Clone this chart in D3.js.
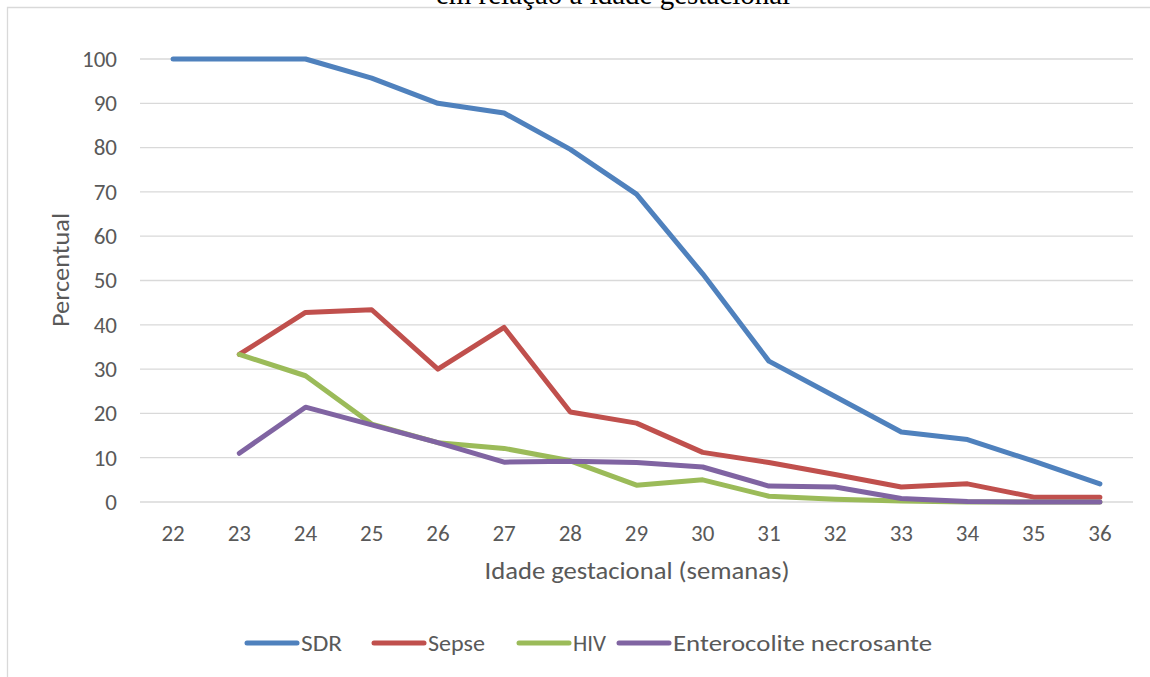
<!DOCTYPE html>
<html><head><meta charset="utf-8">
<script src="https://cdn.jsdelivr.net/npm/d3@7"></script>
<style>body{margin:0;background:#fff;overflow:hidden}svg{display:block}</style>
</head><body>
<svg id="c" width="1150" height="677"></svg>
<script>
const weeks = ["22","23","24","25","26","27","28","29","30","31","32","33","34","35","36"];
const sdr   = [100,100,100,95.7,90,87.8,79.6,69.5,51.5,31.8,23.8,15.8,14.1,9.2,4.1];
const sepse = [null,33.3,42.8,43.4,30,39.4,20.3,17.8,11.2,8.9,6.2,3.4,4.1,1.1,1.1];
const hiv   = [null,33.3,28.5,17.6,13.4,12.1,9.3,3.8,5.0,1.3,0.6,0.2,0,0,0];
const nec   = [null,11.0,21.4,17.4,13.4,9.0,9.2,8.9,7.9,3.6,3.4,0.8,0.1,0,0];
const yTicks = [0,10,20,30,40,50,60,70,80,90,100];
const seriesNames = ["SDR","Sepse","HIV","Enterocolite necrosante"];
const seriesData = [sdr, sepse, hiv, nec];
const colors = ["#4F81BD","#C0504D","#9BBB59","#8064A2"];

const svg = d3.select("#c");
const font = "Carlito, 'Open Sans', 'Liberation Sans', sans-serif";

// chart border
svg.append("path").attr("d","M7.5,677 L7.5,7.5 L1150,7.5").attr("fill","none").attr("stroke","#d9d9d9").attr("stroke-width",1.3);

// title (cut off at the top in the reference)
svg.append("text").attr("x",613).attr("y",4).attr("text-anchor","middle")
  .attr("font-family","'Liberation Serif', 'Times New Roman', serif").attr("font-size",29).attr("fill","#000")
  .text("em relação à idade gestacional");

const x = d3.scaleBand().domain(weeks).range([140,1133]);
const y = d3.scaleLinear().domain([0,100]).range([502,59]);

// gridlines
svg.append("g").selectAll("line").data(yTicks).join("line")
  .attr("x1",140).attr("x2",1133).attr("y1",d=>y(d)).attr("y2",d=>y(d))
  .attr("stroke","#d9d9d9").attr("stroke-width",1.3);

// y axis labels
const ya = svg.append("g").attr("transform","translate(140,0)")
  .call(d3.axisLeft(y).tickValues(yTicks).tickSize(0).tickPadding(23));
ya.select(".domain").remove();
ya.selectAll("text").attr("font-family",font).attr("font-size",23).attr("fill","#595959");

// x axis labels
const xa = svg.append("g").attr("transform","translate(0,502)")
  .call(d3.axisBottom(x).tickSize(0).tickPadding(0));
xa.select(".domain").remove();
xa.selectAll("text").attr("font-family",font).attr("font-size",23).attr("fill","#595959")
  .attr("dy",null).attr("y",39);

// axis titles
svg.append("text").attr("x",637).attr("y",579).attr("text-anchor","middle")
  .attr("font-family",font).attr("font-size",24).attr("fill","#595959")
  .attr("textLength",305).attr("lengthAdjust","spacingAndGlyphs").text("Idade gestacional (semanas)");
svg.append("text").attr("transform","translate(69,270) rotate(-90)").attr("text-anchor","middle")
  .attr("font-family",font).attr("font-size",24).attr("fill","#595959")
  .attr("textLength",114).attr("lengthAdjust","spacingAndGlyphs").text("Percentual");

// lines
const line = d3.line().defined(d=>d.v!=null).x(d=>x(d.k)+x.bandwidth()/2).y(d=>y(d.v));
seriesData.forEach((s,i)=>{
  svg.append("path").datum(weeks.map((k,j)=>({k,v:s[j]})))
    .attr("d",line).attr("fill","none").attr("stroke",colors[i]).attr("stroke-width",5)
    .attr("stroke-linecap","round").attr("stroke-linejoin","round");
});

// legend
const legX = [247,374,519,619];
const legW = [41,57,33,259];
const lg = svg.append("g");
seriesNames.forEach((n,i)=>{
  lg.append("line").attr("x1",legX[i]).attr("x2",legX[i]+50).attr("y1",643).attr("y2",643)
    .attr("stroke",colors[i]).attr("stroke-width",5).attr("stroke-linecap","round");
  lg.append("text").attr("x",legX[i]+54).attr("y",650.5).attr("font-family",font).attr("font-size",22)
    .attr("fill","#595959").attr("textLength",legW[i]).attr("lengthAdjust","spacingAndGlyphs").text(n);
});
</script>
</body></html>
